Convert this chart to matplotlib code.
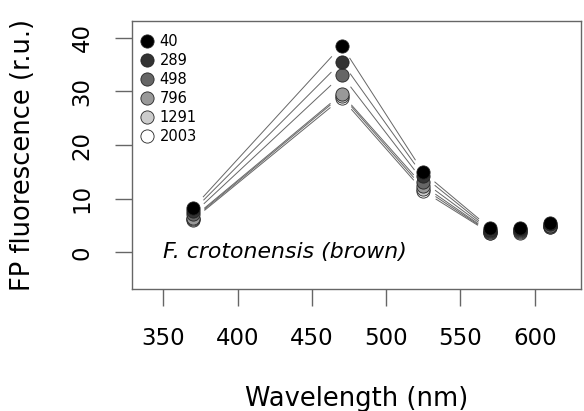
import numpy as np
import matplotlib.pyplot as plt
from matplotlib.lines import Line2D

# excitation wavelengths (nm) and FP fluorescence per light level
wavelength = [370, 470, 525, 570, 590, 610]
levels = ['40', '289', '498', '796', '1291', '2003']
fluor_40 = [8.3, 38.5, 14.9, 4.5, 4.5, 5.4]
fluor_289 = [7.8, 35.5, 14.2, 4.2, 4.3, 5.2]
fluor_498 = [7.2, 33.0, 13.2, 4.0, 4.1, 5.0]
fluor_796 = [6.5, 29.5, 12.4, 3.8, 3.9, 4.9]
fluor_1291 = [6.3, 29.2, 11.9, 3.7, 3.8, 4.8]
fluor_2003 = [6.1, 28.7, 11.4, 3.6, 3.7, 4.7]
series = [fluor_40, fluor_289, fluor_498, fluor_796, fluor_1291, fluor_2003]
greys = ['#000000', '#333333', '#666666', '#999999', '#cccccc', '#ffffff']
n_joined = 4  # only the first four wavelengths are joined by lines

plt.rcParams['font.family'] = 'DejaVu Sans'
fig = plt.figure(figsize=(5.84, 4.11), dpi=100)
ax = fig.add_axes([0.226, 0.297, 0.769, 0.652])
ax.set_xlim(328.8, 631.2)
ax.set_ylim(-6.8, 43.1)
fig.canvas.draw()

# R style type="b": segments stop short of each point
gap = 15.0
def gapped_segment(x0, y0, x1, y1):
    p0 = ax.transData.transform((x0, y0))
    p1 = ax.transData.transform((x1, y1))
    d = p1 - p0
    u = d / np.hypot(*d)
    q0 = ax.transData.inverted().transform(p0 + u * gap)
    q1 = ax.transData.inverted().transform(p1 - u * gap)
    return [q0[0], q1[0]], [q0[1], q1[1]]

for vals in series:
    for i in range(n_joined - 1):
        xs, ys = gapped_segment(wavelength[i], vals[i], wavelength[i + 1], vals[i + 1])
        ax.plot(xs, ys, color='#666666', lw=0.7, zorder=1)

for vals, g in reversed(list(zip(series, greys))):
    ax.plot(wavelength, vals, 'o', ms=9.5, mfc=g, mec='#222222', mew=0.6,
            ls='none', zorder=3)

handles = [Line2D([], [], marker='o', ls='none', ms=9.5, mfc=g, mec='#222222', mew=0.6)
           for g in greys]
ax.legend(handles, levels, loc='upper left', bbox_to_anchor=(-0.008, 1.0),
          frameon=False, fontsize=10.5, handlelength=0.8, handletextpad=0.45,
          labelspacing=0.27, borderaxespad=0.5)

ax.text(350, 0, 'F. crotonensis (brown)', style='italic', fontsize=15.8,
        ha='left', va='center')

ax.set_xticks([350, 400, 450, 500, 550, 600])
ax.set_yticks([0, 10, 20, 30, 40])
for lab in ax.get_yticklabels():
    lab.set_rotation(90)
    lab.set_va('center')
ax.tick_params(axis='both', direction='out', length=12.5, width=1.0,
               color='#666666', labelsize=16.5, pad=15)
for s in ax.spines.values():
    s.set_color('#666666')
    s.set_linewidth(1.0)

ax.set_xlabel('Wavelength (nm)', fontsize=18.5, labelpad=26)
ax.set_ylabel('FP fluorescence (r.u.)', fontsize=18.5, labelpad=25)

fig.savefig('out.png', dpi=100)
